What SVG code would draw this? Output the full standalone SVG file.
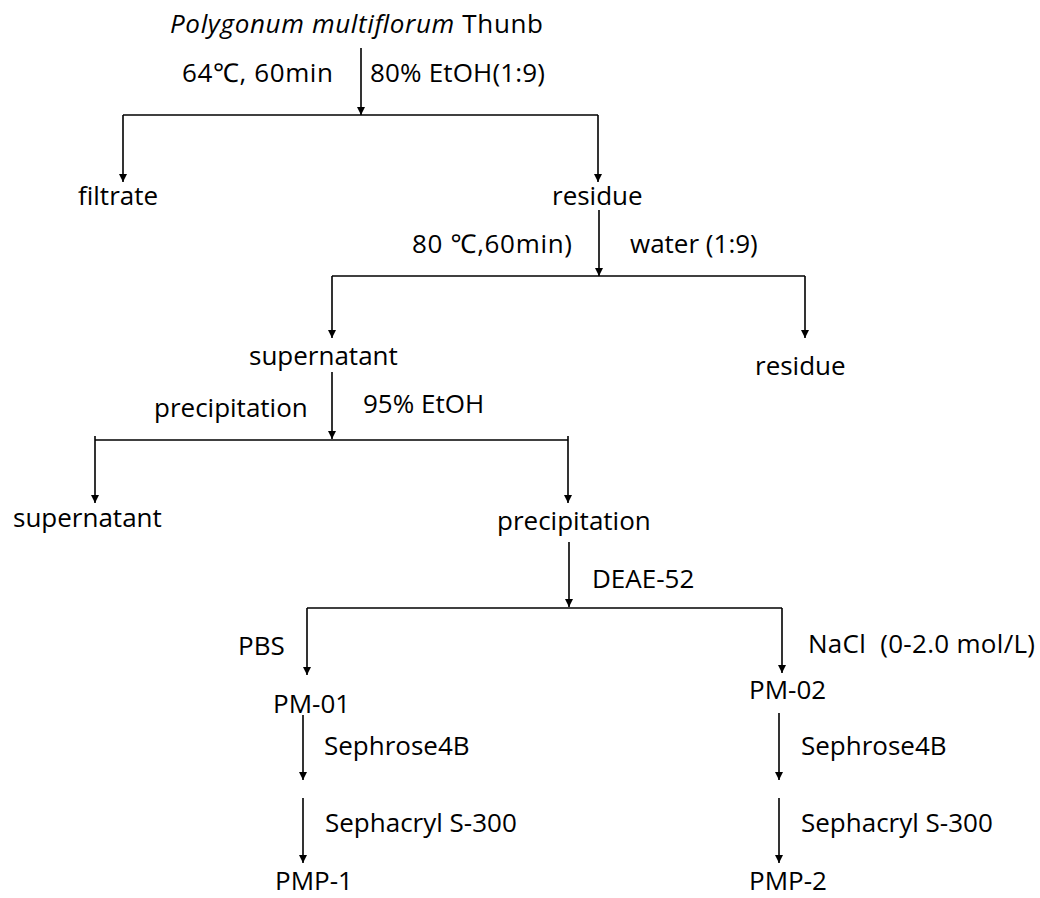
<svg xmlns="http://www.w3.org/2000/svg" width="1040" height="898" viewBox="0 0 1040 898">
<style>
text{font-family:"Open Sans","Noto Sans","Noto Sans CJK SC",sans-serif;font-size:26px;fill:#000}
.c path{fill:none;stroke:#000;stroke-width:1.6}
</style>
<defs>
<marker id="ah" viewBox="0 0 10 10" refX="10" refY="5" markerWidth="10" markerHeight="8" markerUnits="userSpaceOnUse" orient="auto">
<path d="M0,0 L10,5 L0,10 z" fill="#000"/>
</marker>
</defs>
<rect width="1040" height="898" fill="#fff"/>
<g class="c" id="connectors">
<path d="M361,48 V115" marker-end="url(#ah)"/>
<path d="M123,115 H598"/>
<path d="M123,115 V182" marker-end="url(#ah)"/>
<path d="M598,115 V182" marker-end="url(#ah)"/>
<path d="M599,210 V276" marker-end="url(#ah)"/>
<path d="M332,276 H805"/>
<path d="M332,276 V338" marker-end="url(#ah)"/>
<path d="M805,276 V338" marker-end="url(#ah)"/>
<path d="M332,372 V439" marker-end="url(#ah)"/>
<path d="M95,440 H568"/>
<path d="M95,436 V503" marker-end="url(#ah)"/>
<path d="M568,436 V503" marker-end="url(#ah)"/>
<path d="M569,542 V607" marker-end="url(#ah)"/>
<path d="M307,608 H782"/>
<path d="M307,608 V675" marker-end="url(#ah)"/>
<path d="M782,608 V673" marker-end="url(#ah)"/>
<path d="M303,715 V780" marker-end="url(#ah)"/>
<path d="M303,798 V863" marker-end="url(#ah)"/>
<path d="M779,713 V780" marker-end="url(#ah)"/>
<path d="M779,798 V863" marker-end="url(#ah)"/>
</g>
<g id="labels">
<text x="182" y="82" textLength="151">64℃, 60min</text>
<text x="370" y="82" textLength="175">80% EtOH(1:9)</text>
<text x="412" y="253" textLength="160">80 ℃,60min)</text>
<text x="630" y="253">water (1:9)</text>
<text x="154" y="417">precipitation</text>
<text x="363" y="413">95% EtOH</text>
<text x="592" y="588">DEAE-52</text>
<text x="238" y="655">PBS</text>
<text x="808" y="653" textLength="227">NaCl&#160; (0-2.0 mol/L)</text>
<text x="324" y="755">Sephrose4B</text>
<text x="801" y="755">Sephrose4B</text>
<text x="325" y="832">Sephacryl S-300</text>
<text x="801" y="832">Sephacryl S-300</text>
</g>
<g id="n-source"><text x="170" y="33" textLength="373"><tspan font-style="italic">Polygonum multiflorum</tspan> Thunb</text></g>
<g id="n-filtrate"><text x="78" y="205">filtrate</text></g>
<g id="n-residue1"><text x="552" y="205">residue</text></g>
<g id="n-supernatant1"><text x="249" y="365">supernatant</text></g>
<g id="n-residue2"><text x="755" y="375">residue</text></g>
<g id="n-supernatant2"><text x="13" y="527">supernatant</text></g>
<g id="n-precipitation"><text x="497" y="530">precipitation</text></g>
<g id="n-pm01"><text x="273" y="713">PM-01</text></g>
<g id="n-pm02"><text x="749" y="699">PM-02</text></g>
<g id="n-pmp1"><text x="275" y="890">PMP-1</text></g>
<g id="n-pmp2"><text x="749" y="890">PMP-2</text></g>
</svg>
